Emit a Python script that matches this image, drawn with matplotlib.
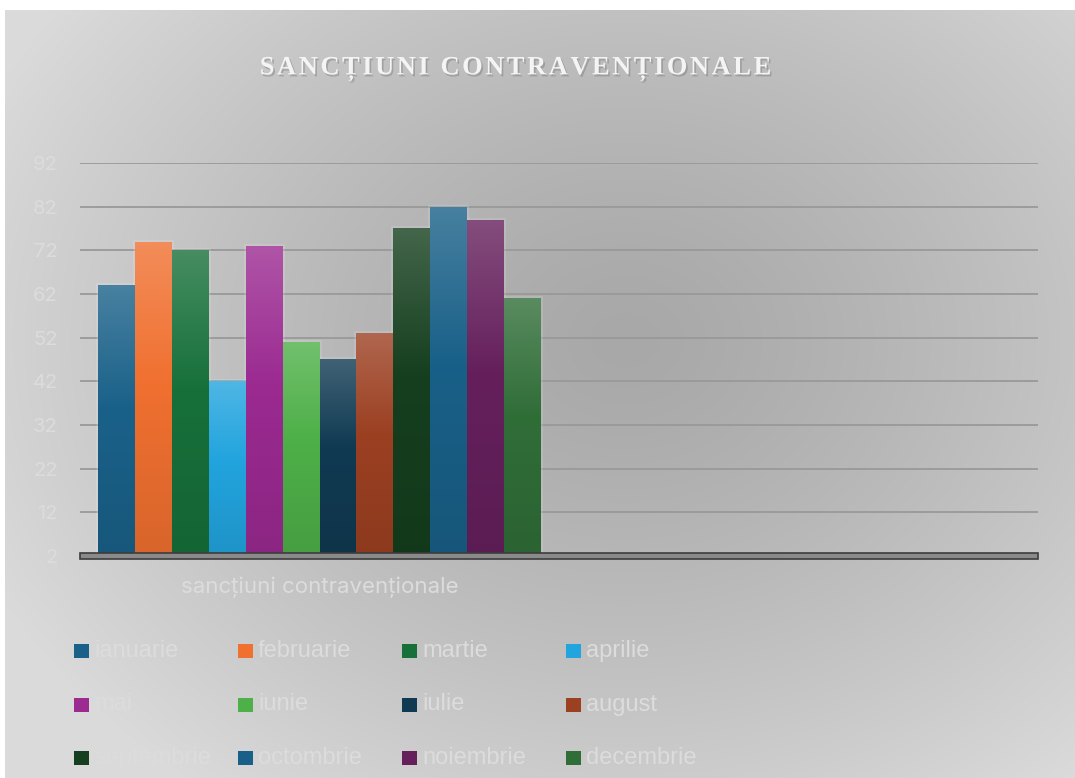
import numpy as np
import matplotlib
matplotlib.use("Agg")
import matplotlib.pyplot as plt
import matplotlib.patheffects as pe
from matplotlib.colors import to_rgb
from matplotlib.patches import Rectangle

# date
title = "SANCȚIUNI CONTRAVENȚIONALE"
categories = ["sancțiuni contravenționale", ""]
months = ["ianuarie", "februarie", "martie", "aprilie", "mai", "iunie",
          "iulie", "august", "septembrie", "octombrie", "noiembrie", "decembrie"]
values = [64, 74, 72, 42, 73, 51, 47, 53, 77, 82, 79, 61]
colors = ["#1a6189", "#f07030", "#17703a", "#22a4de", "#9b2a91", "#4eb048",
          "#103a52", "#9c4022", "#153f1e", "#196088", "#65205c", "#306e38"]
yticks = [2, 12, 22, 32, 42, 52, 62, 72, 82, 92]

W, H = 1075, 778
fig = plt.figure(figsize=(W / 100, H / 100), dpi=100)
fig.patch.set_facecolor("white")

# fundal gri cu gradient radial
bg = fig.add_axes([5 / W, 0, 1 - 5 / W, 1 - 10 / H])
bg.set_axis_off()
yy, xx = np.mgrid[0:768, 0:1070]
d = np.sqrt(((xx - 620) / 700.0) ** 2 + ((yy - 330) / 560.0) ** 2)
g = (168 + 50 * np.clip(d, 0, 1) ** 1.3) / 255.0
bg.imshow(np.dstack([g, g, g]), aspect="auto", interpolation="bilinear")

ax = fig.add_axes([80 / W, 1 - 556 / H, 958 / W, 393 / H])
ax.set_facecolor("none")
for s in ax.spines.values():
    s.set_visible(False)

txt_col = "#dcdcdc"
bw = 0.0769
xpos = (np.arange(len(months)) - 5.5) * bw

# halo discret in jurul barelor
ax.bar(xpos, values, width=bw, facecolor="none",
       edgecolor=(1, 1, 1, 0.12), linewidth=3, zorder=2)
bars = ax.bar(xpos, values, width=bw, color=colors, linewidth=0, zorder=3)

def grad(c):
    c = np.array(to_rgb(c))
    top = c * 0.8 + 0.2
    bot = c * 0.9
    t = np.linspace(0, 1, 100)[:, None]
    col = np.where(t < 0.45, top + (c - top) * (t / 0.45),
                   c + (bot - c) * ((t - 0.45) / 0.55))
    return col[:, None, :]

for b, v, c in zip(bars, values, colors):
    x0 = b.get_x()
    im = ax.imshow(grad(c), extent=[x0, x0 + bw, 2, v], aspect="auto",
                   origin="upper", zorder=4, interpolation="bilinear")
    im.set_clip_path(b)

ax.set_xlim(-0.5, 1.5)
ax.set_ylim(2, 92)
ax.set_yticks(yticks)
ax.set_yticklabels([str(t) for t in yticks], color=txt_col, fontsize=14.5,
                   fontfamily="Inter")
ax.yaxis.grid(True, color="#999999", linewidth=1.3)
ax.set_axisbelow(True)
ax.tick_params(axis="y", length=0, pad=16)
ax.set_xticks([0, 1])
ax.set_xticklabels(categories, color=txt_col, fontsize=16, fontfamily="Inter")
ax.tick_params(axis="x", length=0, pad=15)

# podeaua axei
ax.add_patch(Rectangle((0, -0.008), 1, 0.016, transform=ax.transAxes,
                       facecolor="#8a8a8a", edgecolor="#3c3c3c",
                       linewidth=1.2, clip_on=False, zorder=5))

# titlu cu spatiere intre litere
tkw = dict(fontfamily="Liberation Serif", fontweight="bold", fontsize=19,
           color="#f4f4f4", ha="left", va="baseline",
           path_effects=[pe.withSimplePatchShadow(offset=(1.2, -1.5),
                                                  shadow_rgbFace="#7a7a7a",
                                                  alpha=0.45)])
r = fig.canvas.get_renderer()
ref = fig.text(0, 0, "II", **tkw)
w_ref = ref.get_window_extent(r).width
ref.remove()
adv = []
for ch in title:
    t = fig.text(0, 0, "I" + ch + "I", **tkw)
    adv.append(t.get_window_extent(r).width - w_ref)
    t.remove()
gap = 2.6
x = 515.5 - (sum(adv) + gap * (len(title) - 1)) / 2
for ch, a in zip(title, adv):
    if ch != " ":
        fig.text(x / W, 1 - 74.3 / H, ch, **tkw)
    x += a + gap

# legenda
for i, (m, c) in enumerate(zip(months, colors)):
    col, row = i % 4, i // 4
    px = 74 + col * 164
    py = 651 + row * 53.5
    fig.patches.append(Rectangle((px / W, 1 - (py + 7) / H), 15 / W, 14 / H,
                                 transform=fig.transFigure, facecolor=c,
                                 edgecolor="none"))
    fig.text((px + 20) / W, 1 - py / H, m, ha="left", va="center",
             fontsize=17, color=txt_col,
             fontfamily=["Liberation Sans Narrow", "Liberation Sans"])

fig.savefig("out.png", dpi=100, facecolor=fig.get_facecolor())
plt.close(fig)
